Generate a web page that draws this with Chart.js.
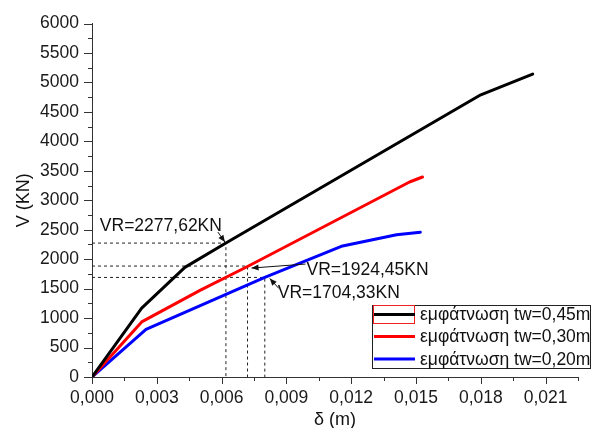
<!DOCTYPE html>
<html>
<head>
<meta charset="utf-8">
<script src="https://cdn.jsdelivr.net/npm/chart.js@4/dist/chart.umd.min.js"></script>
<style>
  html, body { margin: 0; padding: 0; background: #fff; }
  #wrap { width: 593px; height: 428px; position: relative; }
</style>
</head>
<body>
<div id="wrap"><canvas id="c"></canvas></div>
<script>
// ---- data ----
const deltaBlack = [0, 0.0023, 0.0043, 0.0062, 0.0180, 0.0204];
const vBlack     = [0, 1170, 1860, 2273, 4790, 5140];

const deltaRed = [0, 0.0023, 0.0050, 0.0072, 0.0147, 0.0153];
const vRed     = [0, 935, 1470, 1875, 3310, 3395];

const deltaBlue = [0, 0.0025, 0.0080, 0.0116, 0.0141, 0.0152];
const vBlue     = [0, 810, 1690, 2225, 2415, 2457];

const seriesNames = ['εμφάτνωση tw=0,45m', 'εμφάτνωση tw=0,30m', 'εμφάτνωση tw=0,20m'];
const seriesColors = ['#000000', '#ff0000', '#0000ff'];

// guide (dashed) lines and their labels
const guideDelta = [0.0062, 0.0072, 0.0080];
const guideV     = [2273, 1883, 1690];
const guideLabels = ['VR=2277,62KN', 'VR=1924,45KN', 'VR=1704,33KN'];

const xTickStep = 0.0015, xMajorStep = 0.003, xMax = 0.0225;
const yTickStep = 250, yMajorStep = 500, yMax = 6000;
const xTitle = 'δ (m)';
const yTitle = 'V (KN)';

// ---- build datasets ----
function pts(xs, ys) { return xs.map((x, i) => ({ x: x, y: ys[i] })); }

const FONT = "'Liberation Sans', Arial, sans-serif";
Chart.defaults.font.family = FONT;

const datasets = [
  { data: pts(deltaBlack, vBlack), borderColor: seriesColors[0] },
  { data: pts(deltaRed, vRed), borderColor: seriesColors[1] },
  { data: pts(deltaBlue, vBlue), borderColor: seriesColors[2] }
].map((d, i) => Object.assign(d, {
  label: seriesNames[i], borderWidth: 3, pointRadius: 0, tension: 0,
  borderJoinStyle: 'round', borderCapStyle: 'round', fill: false
}));

guideDelta.forEach((gx, i) => {
  datasets.push({
    label: 'guide' + i,
    data: [{ x: 0, y: guideV[i] }, { x: gx, y: guideV[i] }, { x: gx, y: 0 }],
    borderColor: '#222', borderWidth: 1, borderDash: [3, 3],
    pointRadius: 0, tension: 0, fill: false
  });
});

function isMult(v, step) {
  const r = v / step;
  return Math.abs(r - Math.round(r)) < 1e-6;
}

// ---- tick marks (major/minor) ----
const tickMarks = {
  id: 'tickMarks',
  afterDraw(chart) {
    const ctx = chart.ctx, xs = chart.scales.x, ys = chart.scales.y;
    const ca = chart.chartArea;
    ctx.save();
    ctx.strokeStyle = '#333';
    ctx.lineWidth = 1;
    ctx.beginPath();
    xs.ticks.forEach(t => {
      const px = Math.round(xs.getPixelForValue(t.value)) + 0.5;
      const len = isMult(t.value, xMajorStep) ? 7 : 4;
      ctx.moveTo(px, ca.bottom);
      ctx.lineTo(px, ca.bottom + len);
    });
    ys.ticks.forEach(t => {
      const py = Math.round(ys.getPixelForValue(t.value)) + 0.5;
      const len = isMult(t.value, yMajorStep) ? 8 : 4;
      ctx.moveTo(ca.left, py);
      ctx.lineTo(ca.left - len, py);
    });
    ctx.stroke();
    ctx.restore();
  }
};

// ---- annotations (labels + arrows) ----
function arrow(ctx, x1, y1, x2, y2) {
  ctx.beginPath();
  ctx.moveTo(x1, y1);
  ctx.lineTo(x2, y2);
  ctx.stroke();
  const a = Math.atan2(y2 - y1, x2 - x1), L = 7, W = 3;
  ctx.beginPath();
  ctx.moveTo(x2, y2);
  ctx.lineTo(x2 - L * Math.cos(a) + W * Math.sin(a), y2 - L * Math.sin(a) - W * Math.cos(a));
  ctx.lineTo(x2 - L * Math.cos(a) - W * Math.sin(a), y2 - L * Math.sin(a) + W * Math.cos(a));
  ctx.closePath();
  ctx.fill();
}

const annotations = {
  id: 'annotations',
  afterDatasetsDraw(chart) {
    const ctx = chart.ctx, xs = chart.scales.x, ys = chart.scales.y;
    const P = guideDelta.map((d, i) => ({ x: xs.getPixelForValue(d), y: ys.getPixelForValue(guideV[i]) }));
    ctx.save();
    ctx.fillStyle = '#111';
    ctx.strokeStyle = '#111';
    ctx.lineWidth = 1;
    ctx.font = '17.5px ' + FONT;
    ctx.textBaseline = 'middle';
    // label 1: above-left, arrow down to point
    ctx.textAlign = 'right';
    ctx.fillText(guideLabels[0], P[0].x - 4, P[0].y - 17);
    arrow(ctx, P[0].x - 8, P[0].y - 11, P[0].x - 1, P[0].y - 1);
    // label 2: right, horizontal arrow to the left
    ctx.textAlign = 'left';
    ctx.fillText(guideLabels[1], P[1].x + 59, P[1].y + 4);
    arrow(ctx, P[1].x + 58, P[1].y - 2, P[1].x + 4, P[1].y + 2);
    // label 3: below-right, arrow up-left
    ctx.fillText(guideLabels[2], P[2].x + 13, P[2].y + 16);
    arrow(ctx, P[2].x + 14, P[2].y + 11, P[2].x + 5, P[2].y + 1);
    ctx.restore();
  }
};

// ---- legend box ----
const legendBox = {
  id: 'legendBox',
  afterDraw(chart) {
    const ctx = chart.ctx;
    const bx = 372.5, by = 305.5, bw = 218, bh = 63;
    const rows = [314.5, 336.5, 359];
    ctx.save();
    ctx.fillStyle = '#fff';
    ctx.fillRect(bx, by, bw, bh);
    ctx.strokeStyle = '#222';
    ctx.lineWidth = 1;
    ctx.strokeRect(bx, by, bw, bh);
    // odd red frame around first sample (as in original)
    ctx.strokeStyle = '#f02020';
    ctx.strokeRect(373.5, 305.5, 41, 18);
    ctx.font = '17.5px ' + FONT;
    ctx.textBaseline = 'middle';
    ctx.textAlign = 'left';
    seriesNames.forEach((n, i) => {
      ctx.strokeStyle = seriesColors[i];
      ctx.lineWidth = 3;
      ctx.beginPath();
      ctx.moveTo(374, rows[i]);
      ctx.lineTo(415, rows[i]);
      ctx.stroke();
      ctx.fillStyle = '#111';
      ctx.fillText(n, 420, rows[i] + 1);
    });
    ctx.restore();
  }
};

new Chart(document.getElementById('c'), {
  type: 'line',
  data: { datasets: datasets },
  options: {
    responsive: true,
    maintainAspectRatio: false,
    devicePixelRatio: 1,
    animation: false,
    layout: { padding: { top: 17, right: 15, left: 0, bottom: 0 } },
    plugins: { legend: { display: false }, tooltip: { enabled: false } },
    scales: {
      x: {
        type: 'linear', min: 0, max: xMax,
        grid: { display: false, drawTicks: false },
        border: { display: true, color: '#333', width: 1 },
        ticks: {
          stepSize: xTickStep, autoSkip: false, maxRotation: 0, padding: 11,
          color: '#1a1a1a', font: { size: 17.5 },
          callback: v => isMult(v, xMajorStep) ? v.toFixed(3).replace('.', ',') : ''
        },
        title: { display: true, text: xTitle, color: '#111', font: { size: 18 }, padding: { top: 0, bottom: -3 } },
        afterFit(s) { s.height = 51; }
      },
      y: {
        type: 'linear', min: 0, max: yMax,
        grid: { display: false, drawTicks: false },
        border: { display: true, color: '#333', width: 1 },
        ticks: {
          stepSize: yTickStep, autoSkip: false, padding: 13,
          color: '#1a1a1a', font: { size: 17.5 },
          callback: v => isMult(v, yMajorStep) ? String(v) : ''
        },
        title: { display: true, text: yTitle, color: '#111', font: { size: 18 }, padding: { top: 13, bottom: 0 } },
        afterFit(s) { s.width = 92; }
      }
    }
  },
  plugins: [tickMarks, annotations, legendBox]
});
</script>
</body>
</html>
